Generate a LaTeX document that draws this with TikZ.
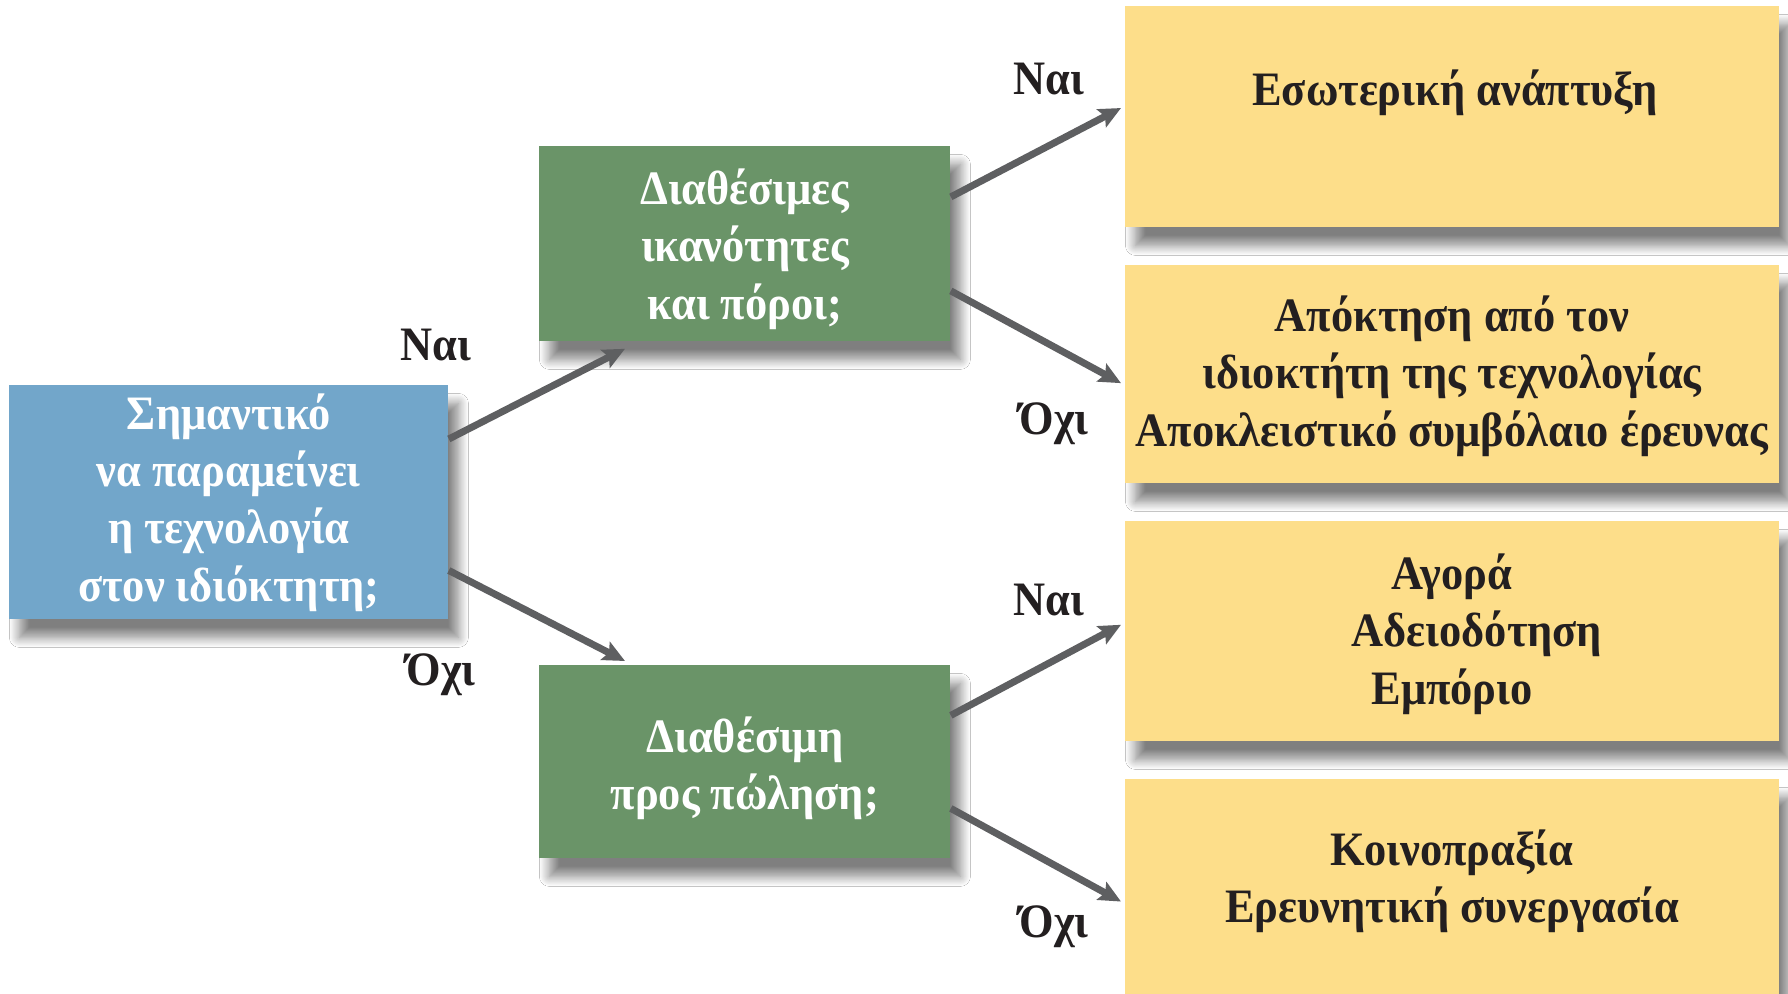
\documentclass[tikz,border=0pt]{standalone}
\usepackage{fontspec}
\setmainfont{Liberation Serif}[FakeStretch=0.925]
\usetikzlibrary{shadows.blur,arrows.meta,calc}
\definecolor{bluebox}{HTML}{72A6CA}
\definecolor{greenbox}{HTML}{6A9468}
\definecolor{yellowbox}{HTML}{FDDE8A}
\definecolor{arrowgray}{HTML}{5E5F61}
\definecolor{darktext}{HTML}{231F20}
\begin{document}
\begin{tikzpicture}[x=0.5pt,y=-0.5pt,
  boxshadow/.style={blur shadow={shadow xshift=5pt,shadow yshift=-9pt,shadow blur radius=5pt,shadow blur steps=14,shadow opacity=50}},
  txt/.style={font=\bfseries\fontsize{24}{28.7}\selectfont,align=center},
  qbox/.style={boxshadow,txt,inner sep=0pt,anchor=north west,text=white},
  abox/.style={boxshadow,inner sep=0pt,anchor=north west,fill=yellowbox,minimum width=327pt},
  atext/.style={txt,text=darktext,inner sep=0pt},
  lbl/.style={txt,text=darktext,inner sep=0pt},
  flow/.style={draw=arrowgray,line width=3.5pt,-{Stealth[length=11pt,width=10pt,inset=2pt]}}
]
\useasboundingbox (0,0) rectangle (1788,994);
\fill[white] (0,0) rectangle (1788,994);

% question boxes
\node[qbox,fill=bluebox,minimum width=219.5pt,minimum height=117pt] (q1) at (9,385)
  {Σημαντικό\\να παραμείνει\\η τεχνολογία\\στον ιδιόκτητη;};
\node[qbox,fill=greenbox,minimum width=205.5pt,minimum height=97.5pt] (q2) at (539,146)
  {\rule{0pt}{23pt}Διαθέσιμες\\ικανότητες\\και πόροι;};
\node[qbox,fill=greenbox,minimum width=205.5pt,minimum height=96.5pt] (q3) at (539,665)
  {\rule{0pt}{24pt}Διαθέσιμη\\προς πώληση;};

% answer boxes
\node[abox,minimum height=110.5pt] (a1) at (1125,6) {};
\node[abox,minimum height=109pt] (a2) at (1125,265) {};
\node[abox,minimum height=110pt] (a3) at (1125,521) {};
\node[abox,minimum height=111pt] (a4) at (1125,779) {};

\node[atext] (t1) at (1455,93) {Εσωτερική ανάπτυξη};
\node[atext] (t2) at (1452,376) {Απόκτηση από τον\\ιδιοκτήτη της τεχνολογίας\\Αποκλειστικό συμβόλαιο έρευνας};
\node[atext] (t3) at (1452,634) {Αγορά\\\hspace*{25pt}Αδειοδότηση\\Εμπόριο};
\node[atext] (t4) at (1452,881) {Κοινοπραξία\\Ερευνητική συνεργασία};

% connector end points
\coordinate (e1) at ($(q2.south west)+(86,7)$);
\coordinate (e2) at ($(q3.north west)+(86,-4)$);

\draw[flow] ($(q1.north east)!0.23!(q1.south east)$) -- (e1);
\draw[flow] ($(q1.north east)!0.79!(q1.south east)$) -- (e2);
\draw[flow] ($(q2.north east)!0.26!(q2.south east)$) -- ($(a1.north west)!0.46!(a1.south west)+(-4,0)$);
\draw[flow] ($(q2.north east)!0.74!(q2.south east)$) -- ($(a2.north west)!0.54!(a2.south west)+(-4,0)$);
\draw[flow] ($(q3.north east)!0.26!(q3.south east)$) -- ($(a3.north west)!0.47!(a3.south west)+(-4,0)$);
\draw[flow] ($(q3.north east)!0.74!(q3.south east)$) -- ($(a4.north west)!0.55!(a4.south west)+(-4,0)$);

% labels
\node[lbl] (l1) at (436,345) {Ναι};
\node[lbl] (l2) at (441,675) {Όχι};
\node[lbl] (l3) at (1049,79) {Ναι};
\node[lbl] (l4) at (1054,424) {Όχι};
\node[lbl] (l5) at (1049,600) {Ναι};
\node[lbl] (l6) at (1054,927) {Όχι};
\end{tikzpicture}
\end{document}
